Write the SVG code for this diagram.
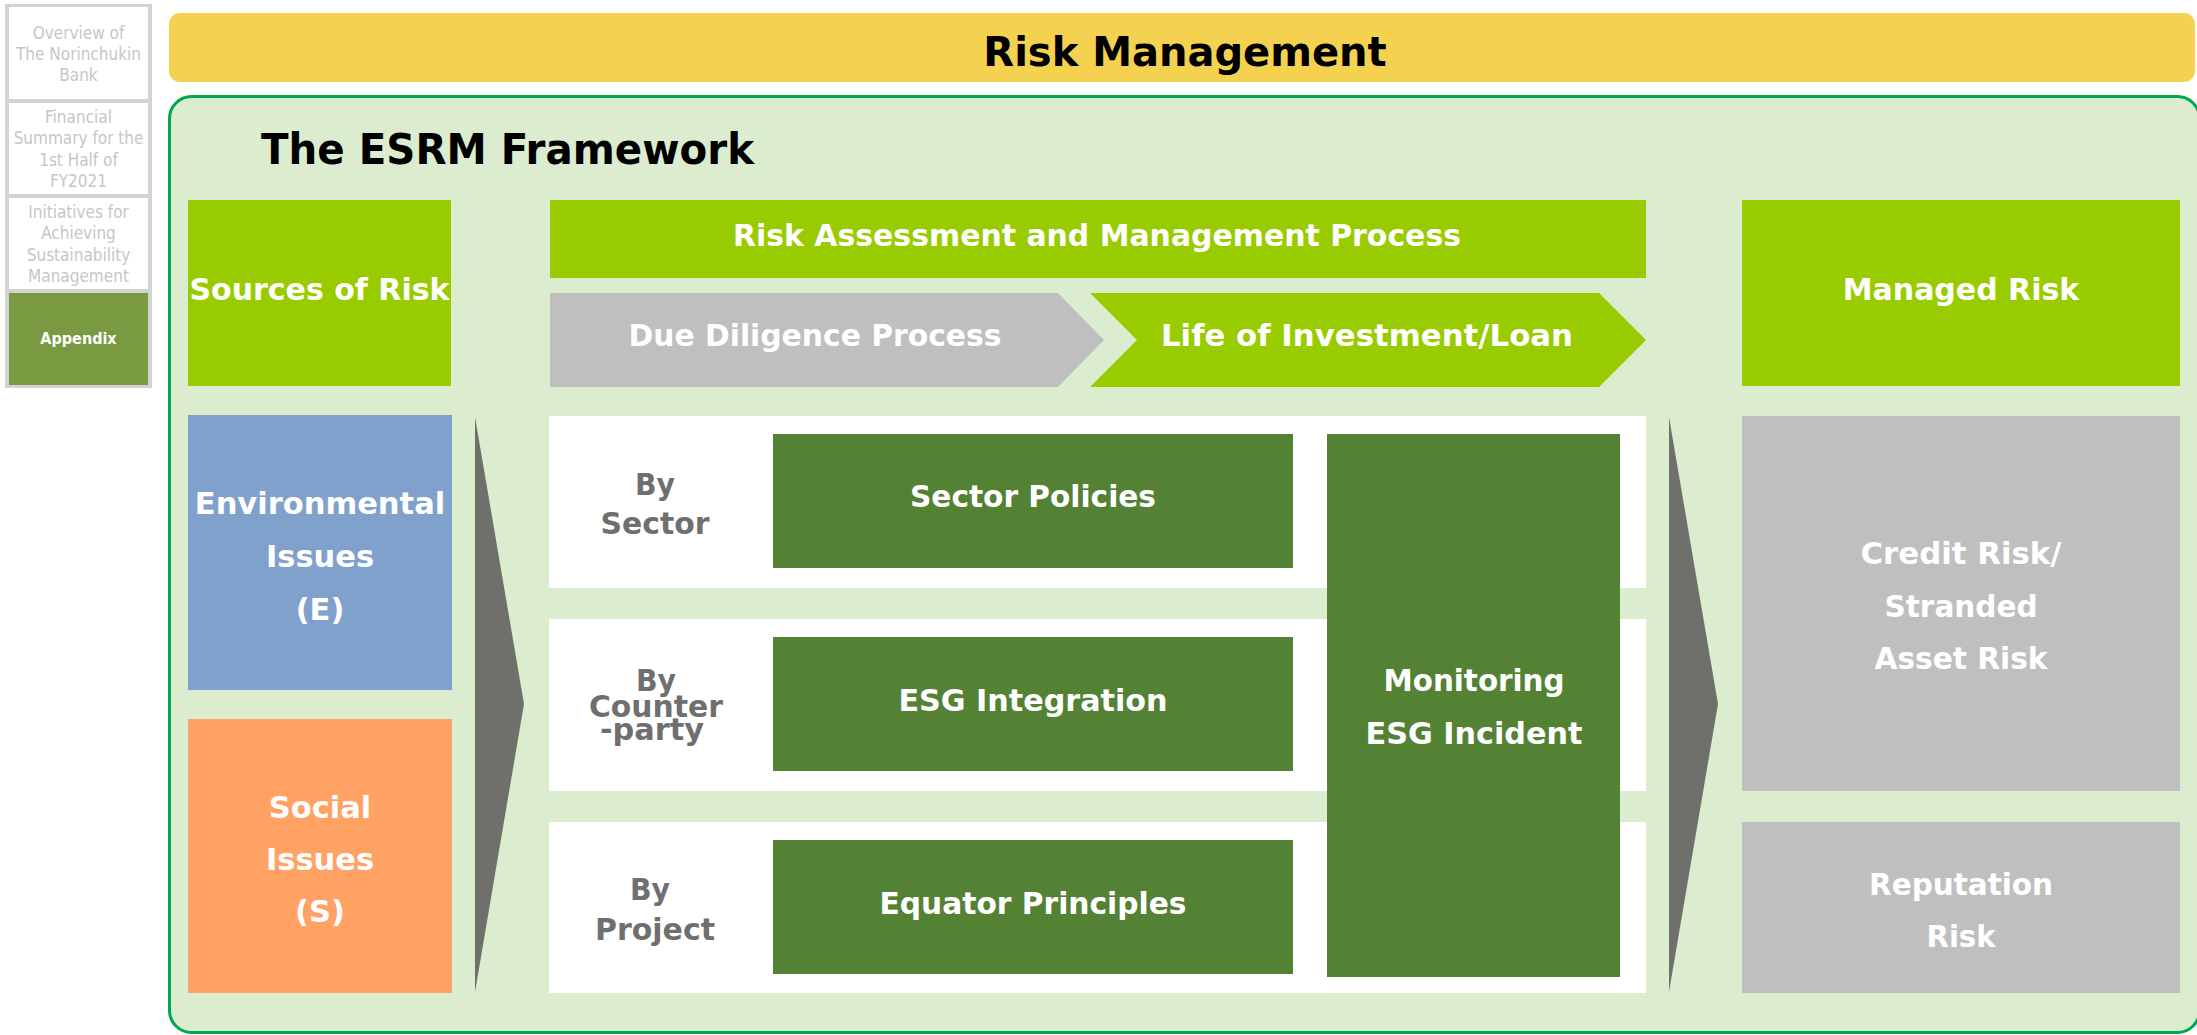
<svg xmlns="http://www.w3.org/2000/svg" width="2197" height="1035" viewBox="0 0 2197 1035">
<style>
.side{font-family:"DejaVu Sans Condensed","DejaVu Sans",sans-serif;font-size:17px;fill:#C6C6C6;text-anchor:middle}
.wb{font-family:"DejaVu Sans","Liberation Sans",sans-serif;font-weight:bold;fill:#fff;text-anchor:middle}
.cb{font-family:"DejaVu Sans Condensed","DejaVu Sans",sans-serif;font-weight:bold;fill:#fff;text-anchor:middle;font-size:31px}
.gt{fill:#6F6F6F}
.lime{fill:#99CC00}
.gray{fill:#BFBFBF}
.dg{fill:#548235}
.white{fill:#fff}
.arrow{fill:#6F706B}
</style>
<rect width="2197" height="1035" fill="#fff"/>
<!-- Sidebar -->
<g id="sidebar">
<rect x="5" y="4" width="147" height="384" fill="#D3D3D3"/>
<rect x="9" y="7" width="139" height="92" fill="#fff"/>
<rect x="9" y="103" width="139" height="91" fill="#fff"/>
<rect x="9" y="198" width="139" height="91" fill="#fff"/>
<rect x="9" y="293" width="139" height="92" fill="#7A9A42"/>
<text class="side" x="78.5" y="39">Overview of</text>
<text class="side" x="78.5" y="60">The Norinchukin</text>
<text class="side" x="78.5" y="81">Bank</text>
<text class="side" x="78.5" y="123">Financial</text>
<text class="side" x="78.5" y="144">Summary for the</text>
<text class="side" x="78.5" y="166">1st Half of</text>
<text class="side" x="78.5" y="187">FY2021</text>
<text class="side" x="78.5" y="218">Initiatives for</text>
<text class="side" x="78.5" y="239">Achieving</text>
<text class="side" x="78.5" y="261">Sustainability</text>
<text class="side" x="78.5" y="282">Management</text>
<text class="side" x="78.5" y="344" style="fill:#fff;font-weight:bold;font-size:16px">Appendix</text>
</g>
<!-- Title bar -->
<g id="title">
<rect x="169" y="13" width="2026" height="69" rx="11" fill="#F4D250"/>
<text x="1185" y="66" font-family="DejaVu Sans, Liberation Sans, sans-serif" font-weight="bold" font-size="40" text-anchor="middle" fill="#000">Risk Management</text>
</g>
<!-- Frame -->
<g id="frame">
<rect x="169.5" y="96.5" width="2030" height="936" rx="22" fill="#DBEDCE" stroke="#00A650" stroke-width="3"/>
<text x="261" y="164" font-family="DejaVu Sans Condensed, DejaVu Sans, sans-serif" font-weight="bold" font-size="42" fill="#000" textLength="493" lengthAdjust="spacingAndGlyphs">The ESRM Framework</text>
</g>
<!-- Connectors -->
<g id="connectors">
<polygon class="arrow" points="475,417 524,704 475,992"/>
<polygon class="arrow" points="1669,417 1718,704 1669,992"/>
<rect class="dg" x="1292" y="491" width="36" height="22"/>
<rect class="dg" x="1292" y="694" width="36" height="22"/>
<rect class="dg" x="1292" y="897" width="36" height="22"/>
</g>
<!-- Header nodes -->
<g id="sources">
<rect class="lime" x="188" y="200" width="263" height="186"/>
<text class="wb" x="319.5" y="300" font-size="30">Sources of Risk</text>
</g>
<g id="process">
<rect class="lime" x="550" y="200" width="1096" height="78"/>
<text class="cb" x="1097" y="246" textLength="728" lengthAdjust="spacingAndGlyphs">Risk Assessment and Management Process</text>
</g>
<g id="due-diligence">
<polygon class="gray" points="550,293 1058,293 1104,340 1058,387 550,387"/>
<text class="cb" x="815" y="346" textLength="373" lengthAdjust="spacingAndGlyphs">Due Diligence Process</text>
</g>
<g id="life">
<polygon class="lime" points="1090,293 1599,293 1646,340 1599,387 1090,387 1137,340"/>
<text class="cb" x="1367" y="346" textLength="412" lengthAdjust="spacingAndGlyphs">Life of Investment/Loan</text>
</g>
<g id="managed">
<rect class="lime" x="1742" y="200" width="438" height="186"/>
<text class="wb" x="1961" y="300" font-size="30">Managed Risk</text>
</g>
<!-- Sources -->
<g id="environmental">
<rect x="188" y="415" width="264" height="275" fill="#7FA1CC"/>
<text class="wb" x="320" y="514" font-size="30.5">Environmental</text>
<text class="wb" x="320" y="567" font-size="30.5">Issues</text>
<text class="wb" x="320" y="620" font-size="30.5">(E)</text>
</g>
<g id="social">
<rect x="188" y="719" width="264" height="274" fill="#FFA264"/>
<text class="wb" x="320" y="818" font-size="30.5">Social</text>
<text class="wb" x="320" y="870" font-size="30.5">Issues</text>
<text class="wb" x="320" y="922" font-size="30.5">(S)</text>
</g>
<!-- Rows -->
<g id="row-sector">
<rect class="white" x="549" y="416" width="1097" height="172"/>
<text class="cb gt" x="655" y="495" textLength="40" lengthAdjust="spacingAndGlyphs">By</text>
<text class="cb gt" x="655" y="534" textLength="109" lengthAdjust="spacingAndGlyphs">Sector</text>
</g>
<g id="row-counterparty">
<rect class="white" x="549" y="619" width="1097" height="172"/>
<text class="cb gt" x="656" y="691" textLength="40" lengthAdjust="spacingAndGlyphs">By</text>
<text class="cb gt" x="656" y="717" textLength="134" lengthAdjust="spacingAndGlyphs">Counter</text>
<text class="cb gt" x="652" y="740" textLength="104" lengthAdjust="spacingAndGlyphs">-party</text>
</g>
<g id="row-project">
<rect class="white" x="549" y="822" width="1097" height="171"/>
<text class="cb gt" x="650" y="900" textLength="40" lengthAdjust="spacingAndGlyphs">By</text>
<text class="cb gt" x="655" y="940" textLength="120" lengthAdjust="spacingAndGlyphs">Project</text>
</g>
<g id="sector-policies">
<rect class="dg" x="773" y="434" width="520" height="134"/>
<text class="cb" x="1033" y="507" textLength="246" lengthAdjust="spacingAndGlyphs">Sector Policies</text>
</g>
<g id="esg-integration">
<rect class="dg" x="773" y="637" width="520" height="134"/>
<text class="cb" x="1033" y="711" textLength="269" lengthAdjust="spacingAndGlyphs">ESG Integration</text>
</g>
<g id="equator">
<rect class="dg" x="773" y="840" width="520" height="134"/>
<text class="cb" x="1033" y="914" textLength="307" lengthAdjust="spacingAndGlyphs">Equator Principles</text>
</g>
<g id="monitoring">
<rect class="dg" x="1327" y="434" width="293" height="543"/>
<text class="cb" x="1474" y="691" textLength="181" lengthAdjust="spacingAndGlyphs">Monitoring</text>
<text class="cb" x="1474" y="744" textLength="217" lengthAdjust="spacingAndGlyphs">ESG Incident</text>
</g>
<!-- Outcomes -->
<g id="credit-risk">
<rect class="gray" x="1742" y="416" width="438" height="375"/>
<text class="cb" x="1961" y="564" textLength="201" lengthAdjust="spacingAndGlyphs">Credit Risk/</text>
<text class="cb" x="1961" y="617" textLength="153" lengthAdjust="spacingAndGlyphs">Stranded</text>
<text class="cb" x="1961" y="669" textLength="173" lengthAdjust="spacingAndGlyphs">Asset Risk</text>
</g>
<g id="reputation-risk">
<rect class="gray" x="1742" y="822" width="438" height="171"/>
<text class="cb" x="1961" y="895" textLength="184" lengthAdjust="spacingAndGlyphs">Reputation</text>
<text class="cb" x="1961" y="947" textLength="69" lengthAdjust="spacingAndGlyphs">Risk</text>
</g>
</svg>
